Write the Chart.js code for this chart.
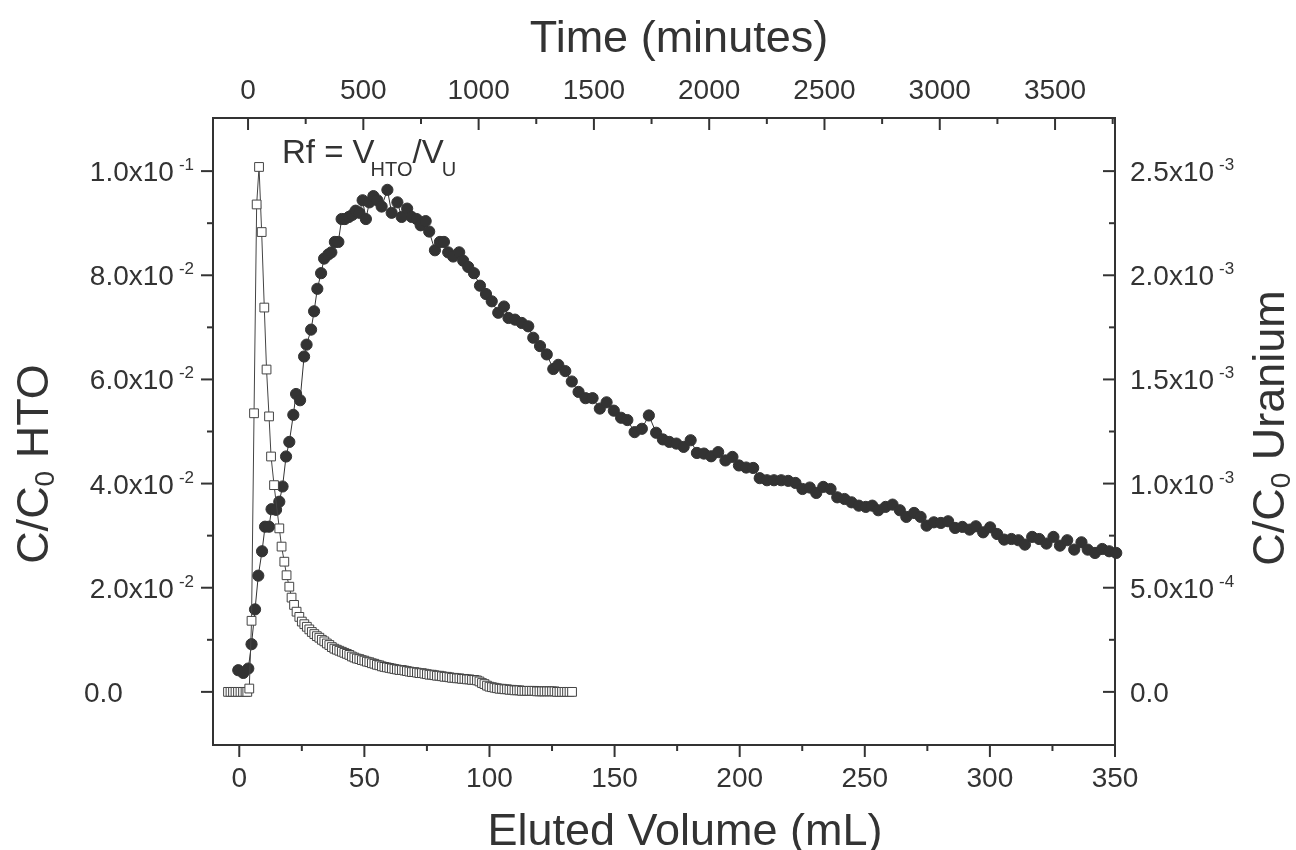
<!DOCTYPE html>
<html>
<head>
<meta charset="utf-8">
<script src="https://cdn.jsdelivr.net/npm/chart.js@4/dist/chart.umd.min.js"></script>
<style>
  body { margin: 0; background: #fff; }
  canvas { display: block; }
</style>
</head>
<body>
<canvas id="breakthroughChart" width="1296" height="850"></canvas>
<script>
// HTO, open squares, left axis
const htoVolume = [-4.5, -3.5, -2.5, -1.5, -0.5, 0.5, 1.5, 2.5, 3.2, 4.0, 4.9, 5.9, 6.95, 7.9, 8.95, 10.0, 10.9, 11.9, 12.7, 13.9, 16.0, 16.9, 18.0, 18.9, 20.0, 20.9, 21.9, 22.9, 24.0,
  25, 26, 27, 28, 29, 30, 31, 32, 33, 34, 35, 36, 37, 38, 39, 40, 41, 42, 43, 44, 45, 46, 47, 48, 49, 50,
  51, 52, 53, 54, 55, 56, 57, 58, 59, 60, 61, 62, 63, 64, 65, 66, 67, 68, 69, 70, 71, 72, 73, 74, 75,
  76, 77, 78, 79, 80, 81, 82, 83, 84, 85, 86, 87, 88, 89, 90, 91, 92, 93, 94, 95, 96, 97, 98, 99, 100,
  101, 102, 103, 104, 105, 106, 107, 108, 109, 110, 111, 112, 113, 114, 115, 116, 117, 118, 119, 120,
  121, 122, 123, 124, 125, 126, 127, 128, 129, 130, 131, 132, 133];
const htoValue = [0, 0, 0, 0, 0, 0, 0, 0, 0, 0.00064, 0.01365, 0.0535, 0.0936, 0.1008, 0.0883, 0.0738, 0.0619, 0.0529, 0.0452, 0.0397, 0.0314, 0.0279, 0.0250, 0.0224, 0.0202, 0.0181, 0.0167, 0.0154, 0.0144,
  0.0135, 0.0130, 0.0125, 0.0120, 0.0115, 0.0111, 0.0107, 0.0104, 0.0100, 0.0097, 0.0093, 0.0090, 0.0086, 0.0083, 0.0081, 0.0079, 0.0077, 0.0075, 0.0073, 0.0071, 0.0068, 0.0066, 0.0064, 0.0063, 0.0061, 0.0060,
  0.0058, 0.0057, 0.0055, 0.0054, 0.0052, 0.0051, 0.0049, 0.0048, 0.0047, 0.0046, 0.0045, 0.0044, 0.0043, 0.0042, 0.0042, 0.0041, 0.0040, 0.0039, 0.0038, 0.0038, 0.0037, 0.0036, 0.0036, 0.0035, 0.0034,
  0.0033, 0.0033, 0.0032, 0.0031, 0.0031, 0.0030, 0.0029, 0.0029, 0.0028, 0.0027, 0.0027, 0.0026, 0.0026, 0.0025, 0.0025, 0.0024, 0.0024, 0.0023, 0.0023, 0.0022, 0.0020, 0.0017, 0.0015, 0.0012, 0.0010,
  0.0009, 0.0008, 0.0007, 0.0006, 0.0006, 0.0005, 0.0005, 0.0004, 0.0004, 0.0003, 0.0003, 0.0003, 0.0002, 0.0002, 0.0002, 0.0002, 0.0002, 0.0002, 0.0001, 0.0001,
  0.0001, 0.0001, 0.0001, 0.0001, 0.0001, 0.0001, 0, 0, 0, 0, 0, 0, 0];

// Uranium, filled circles, right axis
const uVolume = [-0.4, 1.6, 3.6, 4.9, 6.3, 7.6, 9.1, 10.3, 11.9, 12.9, 14.7, 16.0, 17.3, 18.7, 20.0, 21.6, 22.7, 24.3, 25.9,
  26.9, 28.7, 29.9, 31.2, 32.7, 33.9, 35.6, 36.8, 38.2, 39.6, 40.9, 42.2, 43.8, 45.2, 46.5, 48.0, 49.3, 50.6, 52.0, 53.6,
  55.2, 56.9, 59.2, 60.9, 63.2, 64.9, 67.1, 68.9, 70.9, 72.5, 74.5, 75.9, 78.2, 80.2, 81.8, 83.5, 85.5, 87.9, 89.5, 91.5,
  93.8, 96.2, 98.6, 100.9, 103.5, 105.8, 107.6, 110.2, 112.9, 115.5, 117.5, 120.2, 122.9, 125.5, 127.5, 130.3, 132.9, 135.6,
  138.4, 141.2, 144.1, 146.8, 149.7, 152.6, 155.1, 158.0, 160.9, 163.7, 166.6, 169.3, 171.9, 174.7, 177.6, 180.4, 182.9,
  185.7, 188.6, 191.4, 194.3, 197.1, 199.7, 202.6, 205.4, 208.0, 210.9, 213.7, 216.6, 219.4, 222.3, 225.1, 228.0, 230.6,
  233.4, 236.3, 239.0, 241.9, 244.7, 247.6, 250.4, 253.0, 255.4, 258.3, 261.1, 264.0, 266.6, 269.7, 272.3, 274.7, 277.6,
  280.4, 283.3, 286.1, 289.0, 291.9, 294.4, 297.3, 300.1, 302.9, 305.7, 308.6, 311.4, 314.0, 316.9, 319.7, 322.6, 325.4,
  328.0, 330.9, 333.7, 336.6, 339.1, 342.0, 344.9, 347.7, 350.5];
const uValue = [1.04e-4, 0.91e-4, 1.12e-4, 2.29e-4, 3.96e-4, 5.58e-4, 6.75e-4, 7.93e-4, 7.93e-4, 8.77e-4, 8.74e-4, 9.13e-4, 9.86e-4, 1.13e-3, 1.20e-3, 1.33e-3, 1.43e-3, 1.40e-3, 1.61e-3,
  1.667e-3, 1.739e-3, 1.827e-3, 1.935e-3, 2.01e-3, 2.08e-3, 2.10e-3, 2.11e-3, 2.16e-3, 2.16e-3, 2.27e-3, 2.27e-3, 2.28e-3, 2.29e-3, 2.31e-3, 2.30e-3, 2.36e-3, 2.27e-3, 2.35e-3, 2.38e-3,
  2.36e-3, 2.33e-3, 2.41e-3, 2.30e-3, 2.35e-3, 2.28e-3, 2.32e-3, 2.28e-3, 2.27e-3, 2.24e-3, 2.26e-3, 2.21e-3, 2.12e-3, 2.16e-3, 2.16e-3, 2.11e-3, 2.09e-3, 2.11e-3, 2.07e-3, 2.04e-3,
  2.01e-3, 1.95e-3, 1.91e-3, 1.875e-3, 1.82e-3, 1.85e-3, 1.795e-3, 1.787e-3, 1.771e-3, 1.755e-3, 1.70e-3, 1.66e-3, 1.62e-3, 1.55e-3, 1.57e-3, 1.54e-3, 1.49e-3, 1.44e-3,
  1.41e-3, 1.41e-3, 1.36e-3, 1.39e-3, 1.35e-3, 1.316e-3, 1.305e-3, 1.247e-3, 1.263e-3, 1.327e-3, 1.244e-3, 1.212e-3, 1.20e-3, 1.192e-3, 1.176e-3, 1.208e-3, 1.147e-3,
  1.144e-3, 1.131e-3, 1.151e-3, 1.111e-3, 1.128e-3, 1.087e-3, 1.077e-3, 1.075e-3, 1.026e-3, 1.016e-3, 1.016e-3, 1.016e-3, 1.013e-3, 1.003e-3, 9.74e-4, 9.81e-4, 9.55e-4,
  9.84e-4, 9.74e-4, 9.34e-4, 9.26e-4, 9.10e-4, 8.94e-4, 8.88e-4, 8.94e-4, 8.72e-4, 8.88e-4, 8.99e-4, 8.72e-4, 8.40e-4, 8.59e-4, 8.40e-4, 7.98e-4, 8.14e-4,
  8.11e-4, 8.19e-4, 7.87e-4, 7.92e-4, 7.79e-4, 7.95e-4, 7.66e-4, 7.90e-4, 7.58e-4, 7.31e-4, 7.34e-4, 7.28e-4, 7.07e-4, 7.44e-4, 7.34e-4, 7.12e-4, 7.44e-4,
  7.02e-4, 7.28e-4, 6.83e-4, 7.18e-4, 6.83e-4, 6.67e-4, 6.86e-4, 6.75e-4, 6.67e-4];

// axis ranges and ticks
const volumeRange = [-10.5, 350];
const timeRange = [-152, 3760];
const htoRange = [-0.0102, 0.1102];
const uRange = [-0.000255, 0.002755];

const volumeTicks = [0, 50, 100, 150, 200, 250, 300, 350];
const volumeMinor = [25, 75, 125, 175, 225, 275, 325];
const timeTicks = [0, 500, 1000, 1500, 2000, 2500, 3000, 3500];
const timeMinor = [250, 750, 1250, 1750, 2250, 2750, 3250, 3750];
const htoTicks = [0, 0.02, 0.04, 0.06, 0.08, 0.1];
const htoTickLabels = [["0.0", ""], ["2.0x10", "-2"], ["4.0x10", "-2"], ["6.0x10", "-2"], ["8.0x10", "-2"], ["1.0x10", "-1"]];
const htoMinor = [0.01, 0.03, 0.05, 0.07, 0.09];
const uTicks = [0, 0.0005, 0.001, 0.0015, 0.002, 0.0025];
const uTickLabels = [["0.0", ""], ["5.0x10", "-4"], ["1.0x10", "-3"], ["1.5x10", "-3"], ["2.0x10", "-3"], ["2.5x10", "-3"]];
const uMinor = [0.00025, 0.00075, 0.00125, 0.00175, 0.00225];

const INK = '#333333';
const FONT = '"Liberation Sans", Arial, sans-serif';

function font(size) {
    return `${size}px ${FONT}`;
}

// draws a run of [text, size, dy, gap] pieces starting at x
function drawPieces(ctx, pieces, x, y) {
    pieces.forEach(p => {
        ctx.font = font(p[1]);
        ctx.fillText(p[0], x, y + p[2]);
        x += ctx.measureText(p[0]).width + (p[3] || 0);
    });
    return x;
}

function piecesWidth(ctx, pieces) {
    let w = 0;
    pieces.forEach(p => {
        ctx.font = font(p[1]);
        w += ctx.measureText(p[0]).width + (p[3] || 0);
    });
    return w;
}

function sciPieces(label) {
    if (!label[1]) return [[label[0], 28, 0]];
    return [[label[0], 28, 0, 5], [label[1], 17, -11]];
}

const axisDecor = {
    id: 'axisDecor',
    afterDraw(chart) {
        const { ctx, chartArea: a, scales } = chart;
        ctx.save();
        ctx.strokeStyle = INK;
        ctx.fillStyle = INK;
        ctx.lineWidth = 2;
        ctx.textBaseline = 'alphabetic';

        const tick = (x1, y1, x2, y2) => {
            ctx.beginPath();
            ctx.moveTo(x1, y1);
            ctx.lineTo(x2, y2);
            ctx.stroke();
        };

        // bottom axis: ticks outward
        volumeTicks.forEach(v => {
            const x = scales.x.getPixelForValue(v);
            tick(x, a.bottom, x, a.bottom + 12);
            ctx.font = font(28);
            ctx.textAlign = 'center';
            ctx.fillText(String(v), x, 787);
        });
        volumeMinor.forEach(v => {
            const x = scales.x.getPixelForValue(v);
            tick(x, a.bottom, x, a.bottom + 6);
        });

        // top axis: ticks inward
        timeTicks.forEach(v => {
            const x = scales.xTop.getPixelForValue(v);
            tick(x, a.top, x, a.top + 12);
            ctx.font = font(28);
            ctx.textAlign = 'center';
            ctx.fillText(String(v), x, 99);
        });
        timeMinor.forEach(v => {
            const x = scales.xTop.getPixelForValue(v);
            tick(x, a.top, x, a.top + 6);
        });

        // left axis: ticks outward
        htoTicks.forEach((v, i) => {
            const y = scales.y.getPixelForValue(v);
            tick(a.left, y, a.left - 12, y);
            ctx.textAlign = 'left';
            const pcs = sciPieces(htoTickLabels[i]);
            const x0 = htoTickLabels[i][1] ? 194 - piecesWidth(ctx, pcs) : 84;
            drawPieces(ctx, pcs, x0, y + 10);
        });
        htoMinor.forEach(v => {
            const y = scales.y.getPixelForValue(v);
            tick(a.left, y, a.left - 6, y);
        });

        // right axis: ticks inward
        uTicks.forEach((v, i) => {
            const y = scales.yRight.getPixelForValue(v);
            tick(a.right, y, a.right - 12, y);
            ctx.textAlign = 'left';
            drawPieces(ctx, sciPieces(uTickLabels[i]), 1130, y + 10);
        });
        uMinor.forEach(v => {
            const y = scales.yRight.getPixelForValue(v);
            tick(a.right, y, a.right - 6, y);
        });

        // axis titles
        ctx.textAlign = 'left';
        ctx.font = font(45);
        let w = ctx.measureText('Eluted Volume (mL)').width;
        ctx.fillText('Eluted Volume (mL)', 685 - w / 2, 845);
        w = ctx.measureText('Time (minutes)').width;
        ctx.fillText('Time (minutes)', 679 - w / 2, 52);

        const leftTitle = [['C/C', 45, 0], ['0', 28, 6], [' HTO', 45, 0]];
        ctx.save();
        ctx.translate(48, 464);
        ctx.rotate(-Math.PI / 2);
        drawPieces(ctx, leftTitle, -piecesWidth(ctx, leftTitle) / 2, 0);
        ctx.restore();

        const rightTitle = [['C/C', 45, 0], ['0', 28, 6], [' Uranium', 45, 0]];
        ctx.save();
        ctx.translate(1284, 428);
        ctx.rotate(-Math.PI / 2);
        drawPieces(ctx, rightTitle, -piecesWidth(ctx, rightTitle) / 2, 0);
        ctx.restore();

        // Rf annotation
        drawPieces(ctx, [['Rf = V', 33, 0, -4], ['HTO', 20, 13], ['/V', 33, 0, -2], ['U', 20, 13]], 282, 163);

        ctx.restore();
    }
};

const ctx = document.getElementById('breakthroughChart').getContext('2d');
new Chart(ctx, {
    type: 'scatter',
    data: {
        datasets: [
            {
                label: 'HTO',
                data: htoVolume.map((v, i) => ({ x: v, y: htoValue[i] })),
                xAxisID: 'x',
                yAxisID: 'y',
                showLine: true,
                borderColor: '#444',
                borderWidth: 1,
                pointStyle: 'rect',
                pointRadius: 6.2,
                pointBorderWidth: 1,
                pointBorderColor: '#444',
                pointBackgroundColor: '#fff',
                clip: false,
                order: 0
            },
            {
                label: 'Uranium',
                data: uVolume.map((v, i) => ({ x: v, y: uValue[i] })),
                xAxisID: 'x',
                yAxisID: 'yRight',
                showLine: true,
                borderColor: '#333',
                borderWidth: 1,
                pointStyle: 'circle',
                pointRadius: 5.6,
                pointBorderWidth: 1,
                pointBorderColor: '#333',
                pointBackgroundColor: '#333',
                clip: false,
                order: 1
            }
        ]
    },
    options: {
        responsive: false,
        animation: false,
        layout: { padding: 0 },
        plugins: { legend: { display: false }, tooltip: { enabled: false } },
        scales: {
            x: {
                type: 'linear', position: 'bottom',
                min: volumeRange[0], max: volumeRange[1],
                grid: { display: false, drawTicks: false },
                border: { display: true, color: INK, width: 2 },
                ticks: { display: false },
                afterFit: s => { s.height = 105; }
            },
            xTop: {
                type: 'linear', position: 'top',
                min: timeRange[0], max: timeRange[1],
                grid: { display: false, drawTicks: false },
                border: { display: true, color: INK, width: 2 },
                ticks: { display: false },
                afterFit: s => { s.height = 118; }
            },
            y: {
                type: 'linear', position: 'left',
                min: htoRange[0], max: htoRange[1],
                grid: { display: false, drawTicks: false },
                border: { display: true, color: INK, width: 2 },
                ticks: { display: false },
                afterFit: s => { s.width = 213; }
            },
            yRight: {
                type: 'linear', position: 'right',
                min: uRange[0], max: uRange[1],
                grid: { display: false, drawTicks: false },
                border: { display: true, color: INK, width: 2 },
                ticks: { display: false },
                afterFit: s => { s.width = 181; }
            }
        }
    },
    plugins: [axisDecor]
});
</script>
</body>
</html>
